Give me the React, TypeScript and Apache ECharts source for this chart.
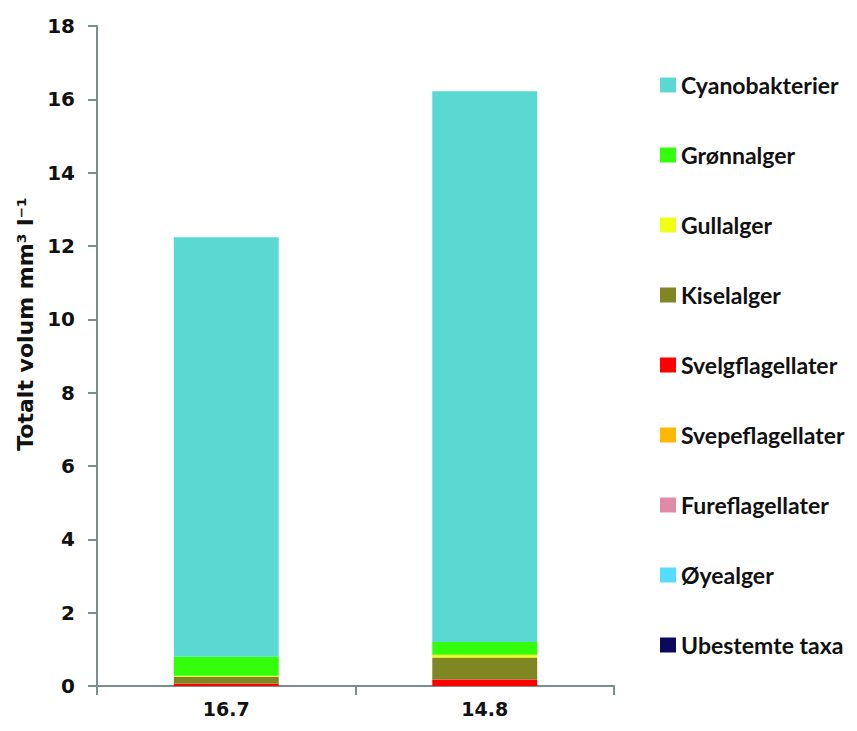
import React, { useEffect, useRef } from "react";
import * as echarts from "echarts";

const categories = ["16.7", "14.8"];
const seriesNames = [
  "Ubestemte taxa",
  "Øyealger",
  "Fureflagellater",
  "Svepeflagellater",
  "Svelgflagellater",
  "Kiselalger",
  "Gullalger",
  "Grønnalger",
  "Cyanobakterier",
];
const seriesColors = [
  "#0a0a5c",
  "#55dcff",
  "#e08aa8",
  "#ffb800",
  "#ff0000",
  "#808622",
  "#f0ff14",
  "#33ff0a",
  "#59d9d2",
];
const ubestemte = [0, 0];
const oyealger = [0, 0];
const fureflagellater = [0, 0];
const svepeflagellater = [0, 0];
const svelgflagellater = [0.06, 0.18];
const kiselalger = [0.19, 0.6];
const gullalger = [0.03, 0.07];
const gronnalger = [0.52, 0.35];
const cyanobakterier = [11.44, 15.02];
const seriesValues = [
  ubestemte,
  oyealger,
  fureflagellater,
  svepeflagellater,
  svelgflagellater,
  kiselalger,
  gullalger,
  gronnalger,
  cyanobakterier,
];
const yTicks = { min: 0, max: 18, interval: 2 };
const yAxisTitle = "Totalt volum mm³ l⁻¹";

const axisColor = "#7b8e8e";

export default function App() {
  const ref = useRef<HTMLDivElement>(null);
  useEffect(() => {
    const chart = echarts.init(ref.current!, null, { renderer: "svg" });
    const legendOrder = [...seriesNames].reverse();
    chart.setOption({
      animation: false,
      backgroundColor: "#ffffff",
      grid: { left: 89, right: 235, top: 18, bottom: 37, containLabel: false },
      legend: {
        data: legendOrder,
        orient: "vertical",
        left: 652,
        top: 65,
        padding: 0,
        itemWidth: 16,
        itemHeight: 15,
        itemGap: 46,
        icon: "rect",
        textStyle: {
          fontFamily: "Lato",
          fontWeight: "bold",
          fontSize: 23,
          lineHeight: 24,
          color: "#111",
        },
      },
      graphic: [
        {
          type: "text",
          x: 17,
          y: 316,
          rotation: Math.PI / 2,
          style: {
            text: yAxisTitle,
            fontFamily: "DejaVu Sans",
            fontWeight: "bold",
            fontSize: 22,
            fill: "#111",
            align: "center",
            verticalAlign: "middle",
          },
        },
      ],
      xAxis: {
        type: "category",
        data: categories,
        axisLine: { show: true, lineStyle: { color: axisColor, width: 2 } },
        axisTick: { show: true, length: 9, lineStyle: { color: axisColor, width: 2 } },
        axisLabel: {
          fontFamily: "DejaVu Sans",
          fontWeight: "bold",
          fontSize: 19,
          color: "#111",
          margin: 13,
        },
      },
      yAxis: {
        type: "value",
        min: yTicks.min,
        max: yTicks.max,
        interval: yTicks.interval,
        splitLine: { show: false },
        axisLine: { show: true, lineStyle: { color: axisColor, width: 2 } },
        axisTick: { show: true, length: 9, lineStyle: { color: axisColor, width: 2 } },
        axisLabel: {
          fontFamily: "DejaVu Sans",
          fontWeight: "bold",
          fontSize: 20,
          color: "#111",
          margin: 22,
        },
      },
      series: seriesNames.map((name, i) => ({
        name,
        type: "bar",
        stack: "total",
        barWidth: "40.6%",
        itemStyle: { color: seriesColors[i] },
        data: seriesValues[i],
      })),
    });
    return () => chart.dispose();
  }, []);
  return <div ref={ref} style={{ width: 841, height: 715 }} />;
}
